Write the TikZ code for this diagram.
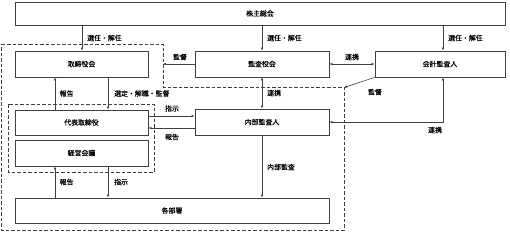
\documentclass[tikz,border=0pt]{standalone}
\usepackage{fontspec}
\newfontfamily\cjk[FakeBold=0.4]{Noto Sans CJK JP}
\usetikzlibrary{arrows.meta,shadows}
\begin{document}
\begin{tikzpicture}[x=1pt,y=-1pt,
  box/.style={draw=black!75,line width=0.8pt,fill=white,rectangle,inner sep=0pt,
    drop shadow={shadow xshift=0.7pt,shadow yshift=-0.7pt,fill=black!35,opacity=1},
    font=\cjk\fontsize{6.9}{7}\selectfont},
  lbl/.style={font=\cjk\fontsize{6.9}{7}\selectfont,inner sep=0pt},
  conn/.style={draw=black!75,line width=0.6pt,-{Latex[length=3pt,width=2.6pt]}},
  bconn/.style={draw=black!75,line width=0.6pt,{Latex[length=3pt,width=2.6pt]}-{Latex[length=3pt,width=2.6pt]}},
  dbox/.style={draw=black!75,line width=0.9pt,dash pattern=on 3.5pt off 2pt}]
\useasboundingbox (0,0) rectangle (510,231);
% dashed groups
\draw[dbox] (1.5,44) -- (163,44) -- (163,87) -- (344,87) -- (344,230) -- (1.5,230) -- cycle;
\draw[dbox] (8,104) rectangle (154,172);
% boxes
\node[box,minimum width=490pt,minimum height=23pt] (sh) at (260,13.5) {株主総会};
\node[box,minimum width=133pt,minimum height=26pt] (tb) at (81.5,64) {取締役会};
\node[box,minimum width=134pt,minimum height=26pt] (kk) at (262,64) {監査役会};
\node[box,minimum width=130pt,minimum height=26pt] (ka) at (440,64) {会計監査人};
\node[box,minimum width=133pt,minimum height=25pt] (dt) at (81.5,122.5) {代表取締役};
\node[box,minimum width=133pt,minimum height=26pt] (kc) at (81.5,153) {経営会議};
\node[box,minimum width=134pt,minimum height=26pt] (na) at (262,122) {内部監査人};
\node[box,minimum width=314pt,minimum height=25pt] (bs) at (172,210.5) {各部署};
% coordinates
\coordinate (gL) at (163,64);
\coordinate (gC) at (344,87.5);
\coordinate (kaC) at (443,122);
% connectors
\draw[conn] (sh.south -| 82,0) -- (tb.north -| 82,0);
\node[lbl,anchor=west] at (87,38) {選任・解任};
\draw[conn] (sh.south -| 262,0) -- (kk.north);
\node[lbl,anchor=west] at (267,38) {選任・解任};
\draw[conn] (sh.south -| 443,0) -- (ka.north -| 443,0);
\node[lbl,anchor=west] at (448,38) {選任・解任};
\draw[conn] (kk.west) -- (gL);
\node[lbl] at (180,57) {監督};
\draw[bconn] (kk.east) -- (ka.west);
\node[lbl] at (352,57) {連携};
\draw[conn] (ka.south west) -- (gC);
\node[lbl] at (375,92) {監督};
\draw[bconn] (kk.south) -- (na.north);
\node[lbl,anchor=west] at (267,93) {連携};
\draw[conn] (tb.south -| 108,0) -- (dt.north -| 108,0);
\node[lbl,anchor=west] at (114,93.5) {選定・解職・監督};
\draw[conn] (dt.north -| 55,0) -- (tb.south -| 55,0);
\node[lbl,anchor=west] at (59.5,93.5) {報告};
\draw[conn] (dt.east |- 0,116) -- (na.west |- 0,116);
\node[lbl] at (172,108.5) {指示};
\draw[conn] (na.west |- 0,128) -- (dt.east |- 0,128);
\node[lbl] at (172,137) {報告};
\draw[conn] (na.south) -- (bs.north -| na.south);
\node[lbl,anchor=west] at (267,167) {内部監査};
\draw[bconn] (ka.south -| 443,0) -- (kaC) -- (na.east |- kaC);
\node[lbl] at (435,130) {連携};
\draw[conn] (bs.north -| 55,0) -- (kc.south -| 55,0);
\node[lbl,anchor=west] at (59.5,182) {報告};
\draw[conn] (kc.south -| 108,0) -- (bs.north -| 108,0);
\node[lbl,anchor=west] at (114,182) {指示};
\end{tikzpicture}
\end{document}
